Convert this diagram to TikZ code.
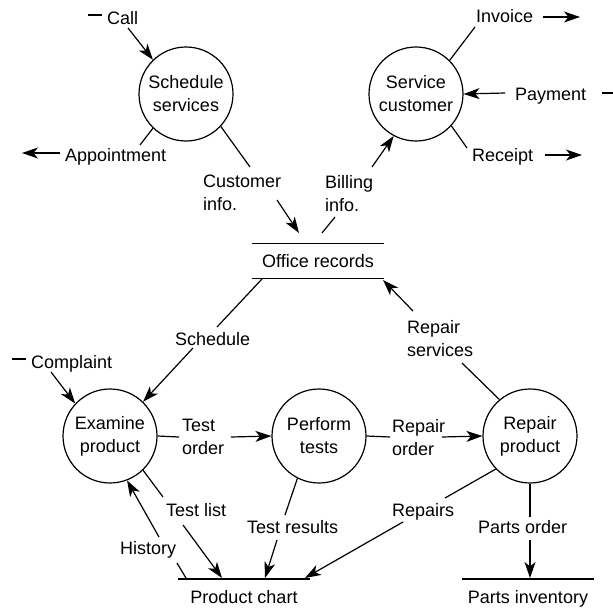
\documentclass[tikz,border=0pt]{standalone}
\usepackage{fontspec}
\setmainfont{Liberation Sans}
\usetikzlibrary{arrows.meta}
\begin{document}
\begin{tikzpicture}[x=1pt,y=-1pt,
  font=\fontsize{18}{23}\selectfont,
  proc/.style={draw, circle, line width=1.2pt, minimum size=94pt, inner sep=0pt, align=center},
  lbl/.style={inner sep=0pt, anchor=base west},
  mlbl/.style={inner sep=0pt, anchor=north west, align=left},
  store/.style={inner sep=0pt, anchor=base},
  flow/.style={line width=1.2pt},
  arr/.style={flow, -{Stealth[length=16pt,width=11pt,inset=4.5pt]}},
]
\useasboundingbox (0,0) rectangle (613,613);

% processes
\node[proc] (ss) at (186,94)  {Schedule\\services};
\node[proc] (sc) at (416,94)  {Service\\customer};
\node[proc] (ep) at (110,436) {Examine\\product};
\node[proc] (pt) at (319,436) {Perform\\tests};
\node[proc] (rp) at (530,436) {Repair\\product};

% stores
\node[inner sep=0pt, minimum width=132pt, minimum height=35pt] (or) at (318,261) {Office records};
\draw[flow] (or.north west) -- (or.north east);
\draw[flow] (or.south west) -- (or.south east);
\node[store] (pc) at (244,603) {Product chart};
\coordinate (pcw) at (178,579); \coordinate (pce) at (310,579);
\draw[flow] (pcw) -- (pce);
\node[store] (pi) at (528,603) {Parts inventory};
\coordinate (piw) at (462,579); \coordinate (pie) at (594,579);
\draw[flow] (piw) -- (pie);

% labels
\node[lbl] (call) at (107,24) {Call};
\node[lbl] (appt) at (65,161) {Appointment};
\node[mlbl] (cinfo) at (203,175) {Customer\\info.};
\node[mlbl] (binfo) at (325,175) {Billing\\info.};
\node[lbl] (inv) at (476,23) {Invoice};
\node[lbl] (pay) at (515,100) {Payment};
\node[lbl] (rec) at (472,161) {Receipt};
\node[lbl] (sched) at (175,345) {Schedule};
\node[mlbl] (rserv) at (407,320) {Repair\\services};
\node[lbl] (compl) at (31,368) {Complaint};
\node[mlbl] (torder) at (182,419) {Test\\order};
\node[mlbl] (rorder) at (392,419) {Repair\\order};
\node[lbl] (tlist) at (166,516) {Test list};
\node[lbl] (hist) at (120,554) {History};
\node[lbl] (tres) at (247,533) {Test results};
\node[lbl] (reps) at (392,516) {Repairs};
\node[lbl] (porder) at (478,533) {Parts order};

% free ends
\coordinate (callA) at (88,15);  \coordinate (callB) at (102,15);
\coordinate (callS) at (128,28);
\coordinate (apA) at (140,145); \coordinate (apS) at (60,153); \coordinate (apE) at (22,153);
\coordinate (ciA) at (250,167); \coordinate (ciS) at (277,200); \coordinate (ciE) at (299,233);
\coordinate (biA) at (322,233); \coordinate (biB) at (335,217); \coordinate (biS) at (372,167);
\coordinate (invA) at (475,27); \coordinate (invS) at (543,17); \coordinate (invE) at (580,17);
\coordinate (payA) at (602,93); \coordinate (payB) at (613,93); \coordinate (payS) at (505,93);
\coordinate (recA) at (467,148); \coordinate (recS) at (545,155); \coordinate (recE) at (582,155);
\coordinate (schA) at (262,279); \coordinate (schB) at (217,327); \coordinate (schS) at (193,348);
\coordinate (coA) at (12,359); \coordinate (coB) at (26,359); \coordinate (coS) at (51,372);
\coordinate (toA) at (179,437); \coordinate (toS) at (231,437);
\coordinate (roA) at (390,437); \coordinate (roS) at (442,437);
\coordinate (tlA) at (163,497); \coordinate (tlS) at (183,525); \coordinate (tlE) at (222,578);
\coordinate (hiS) at (159,537); \coordinate (hiA) at (186,578); \coordinate (hiB) at (177,563);
\coordinate (trA) at (285,515); \coordinate (trS) at (277,540); \coordinate (trE) at (265,578);
\coordinate (rpA) at (445,498); \coordinate (rpS) at (403,522); \coordinate (rpE) at (305,578);
\coordinate (poA) at (530,517); \coordinate (poS) at (530,540); \coordinate (poE) at (530,578);
\coordinate (rsA) at (462,363); \coordinate (rsS) at (413,311); \coordinate (rsE) at (383,280);

% flows
\draw[flow] (callA) -- (callB);
\draw[arr] (callS) -- (ss.134);
\draw[flow] (ss.226) -- (apA);
\draw[arr] (apS) -- (apE);
\draw[flow] (ss.-43) -- (ciA);
\draw[arr] (ciS) -- (ciE);
\draw[flow] (biA) -- (biB);
\draw[arr] (biS) -- (sc.242);
\draw[flow] (sc.45) -- (invA);
\draw[arr] (invS) -- (invE);
\draw[flow] (payA) -- (payB);
\draw[arr] (payS) -- (sc.east);
\draw[flow] (sc.-42) -- (recA);
\draw[arr] (recS) -- (recE);
\draw[flow] (schA) -- (schB);
\draw[arr] (schS) -- (ep.46);
\draw[flow] (coA) -- (coB);
\draw[arr] (coS) -- (ep.137);
\draw[flow] (ep.east) -- (toA);
\draw[arr] (toS) -- (pt.west);
\draw[flow] (pt.east) -- (roA);
\draw[arr] (roS) -- (rp.west);
\draw[flow] (ep.-46) -- (tlA);
\draw[arr] (tlS) -- (tlE);
\draw[arr] (hiS) -- (ep.-69);
\draw[flow] (hiA) -- (hiB);
\draw[flow] (pt.-117) -- (trA);
\draw[arr] (trS) -- (trE);
\draw[flow] (rp.224) -- (rpA);
\draw[arr] (rpS) -- (rpE);
\draw[flow] (rp.south) -- (poA);
\draw[arr] (poS) -- (poE);
\draw[flow] (rp.130) -- (rsA);
\draw[arr] (rsS) -- (rsE);
\end{tikzpicture}
\end{document}
